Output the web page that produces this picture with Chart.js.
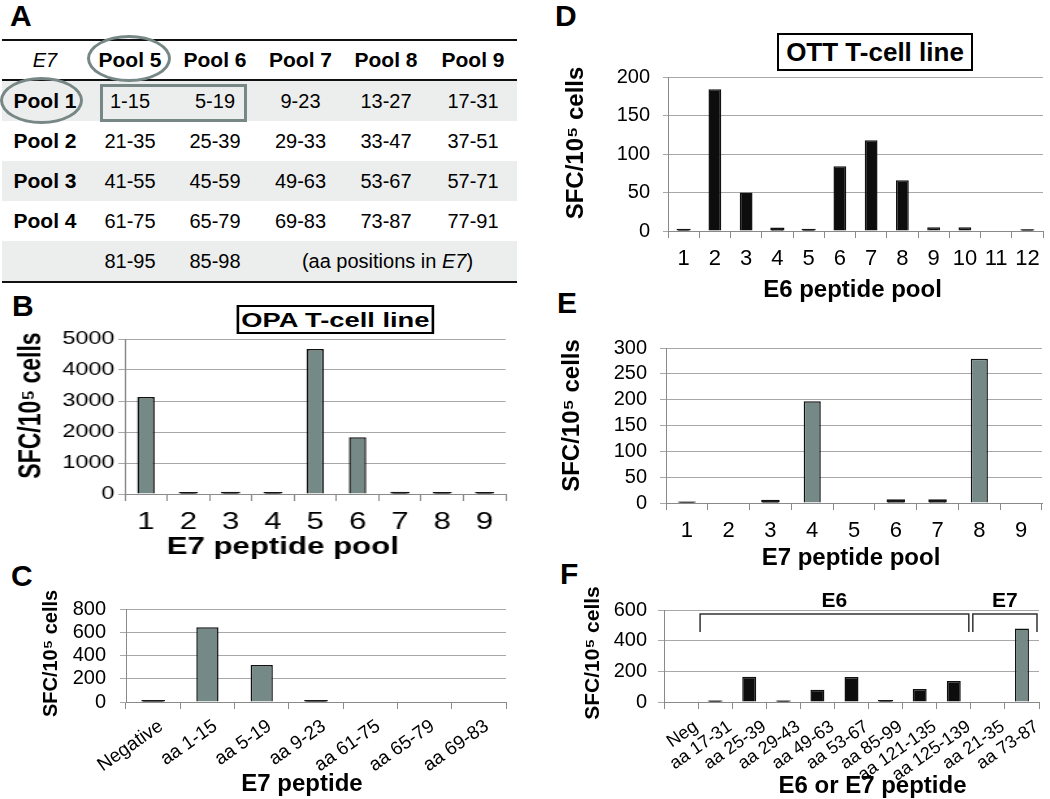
<!DOCTYPE html>
<html>
<head>
<meta charset="utf-8">
<title>HPV16 E6/E7 T-cell line responses</title>
<script src="https://cdn.jsdelivr.net/npm/chart.js@4.4.1/dist/chart.umd.min.js"></script>
<style>
  html, body { margin: 0; padding: 0; background: #fff; }
  body { width: 1050px; height: 799px; position: relative; overflow: hidden;
         font-family: "Liberation Sans", Arial, sans-serif; color: #000; }
  canvas { position: absolute; }
  .letter { position: absolute; font-size: 30px; font-weight: bold; line-height: 30px; }
  .box { position: absolute; box-sizing: border-box; border: 2px solid #000; background: #fff;
         font-weight: bold; text-align: center; white-space: nowrap; }
  .mark { position: absolute; box-sizing: border-box; border: 3px solid #778785; }
  #tbl { position: absolute; left: 2px; top: 39px; width: 515px; table-layout: fixed;
         border-collapse: collapse; border-top: 2px solid #111; border-bottom: 2px solid #111; font-size: 20px; }
  #tbl td { padding: 0; text-align: center; vertical-align: middle; white-space: nowrap; }
  #tbl thead td { height: 38px; border-bottom: 2px solid #111; font-weight: bold; font-size: 21px; }
  #tbl thead td.e7 { font-weight: normal; font-style: italic; font-size: 20px; }
  #tbl tbody td { height: 40px; }
  #tbl tbody td.rl { font-weight: bold; font-size: 21px; }
  #tbl tbody tr.shade td { background: #eceeed; }
  #stretchB { position: absolute; left: 0; top: 0; width: 396px; height: 799px;
              transform: scaleX(1.3); transform-origin: 0 0; }
</style>
</head>
<body>

<div class="letter" style="left:10px; top:1px;">A</div>
<div class="letter" style="left:12px; top:291px;">B</div>
<div class="letter" style="left:11px; top:561px;">C</div>
<div class="letter" style="left:555px; top:1px;">D</div>
<div class="letter" style="left:557px; top:288px;">E</div>
<div class="letter" style="left:560px; top:559px;">F</div>

<table id="tbl">
  <colgroup>
    <col style="width:86px"><col style="width:84px"><col style="width:86px">
    <col style="width:85px"><col style="width:86px"><col style="width:88px">
  </colgroup>
  <thead></thead>
  <tbody></tbody>
</table>
<div class="mark" style="left:87px; top:35px; width:84px; height:47px; border-radius:50%;"></div>
<div class="mark" style="left:0px; top:77px; width:83px; height:47px; border-radius:50%;"></div>
<div class="mark" style="left:100px; top:84px; width:147px; height:38px;"></div>

<div id="stretchB">
  <div class="box" style="left:182px; top:305px; width:152px; height:29px; font-size:21px; line-height:25px;">OPA T-cell line</div>
  <canvas id="chartB" width="396" height="231" style="left:0; top:330px;"></canvas>
</div>
<canvas id="chartC" width="515" height="219" style="left:0; top:580px;"></canvas>

<div class="box" style="left:777px; top:33px; width:196px; height:38px; font-size:26px; line-height:34px;">OTT T-cell line</div>
<canvas id="chartD" width="520" height="245" style="left:530px; top:60px;"></canvas>
<canvas id="chartE" width="520" height="245" style="left:530px; top:330px;"></canvas>
<canvas id="chartF" width="520" height="219" style="left:530px; top:580px;"></canvas>

<script>
// ---- panel A: peptide pool matrix ----
const tableCols = ['Pool 5', 'Pool 6', 'Pool 7', 'Pool 8', 'Pool 9'];
const tableRows = ['Pool 1', 'Pool 2', 'Pool 3', 'Pool 4'];
const tableCells = [
  ['1-15', '5-19', '9-23', '13-27', '17-31'],
  ['21-35', '25-39', '29-33', '33-47', '37-51'],
  ['41-55', '45-59', '49-63', '53-67', '57-71'],
  ['61-75', '65-79', '69-83', '73-87', '77-91']
];
const tableExtra = ['81-95', '85-98'];

// ---- panel B: OPA line, E7 pools ----
const bLabels = ['1', '2', '3', '4', '5', '6', '7', '8', '9'];
const bValues = [3130, 40, 50, 40, 4680, 1830, 50, 40, 40];

// ---- panel C: OPA line, E7 peptides ----
const cLabels = ['Negative', 'aa 1-15', 'aa 5-19', 'aa 9-23', 'aa 61-75', 'aa 65-79', 'aa 69-83'];
const cValues = [12, 642, 319, 12, 0, 0, 0];

// ---- panel D: OTT line, E6 pools ----
const dLabels = ['1', '2', '3', '4', '5', '6', '7', '8', '9', '10', '11', '12'];
const dValues = [2, 184, 50, 3.5, 2, 84, 118, 66, 5, 5, 0, 1.5];

// ---- panel E: OTT line, E7 pools ----
const eLabels = ['1', '2', '3', '4', '5', '6', '7', '8', '9'];
const eValues = [1.5, 0, 5, 197, 0, 6, 6, 279, 0];

// ---- panel F: OTT line, E6 / E7 peptides ----
const fLabels = ['Neg', 'aa 17-31', 'aa 25-39', 'aa 29-43', 'aa 49-63', 'aa 53-67',
                 'aa 85-99', 'aa 121-135', 'aa 125-139', 'aa 21-35', 'aa 73-87'];
const fValues = [0, 6, 165, 6, 80, 163, 8, 85, 137, 0, 480];
const fGroups = ['Neg', 'E6', 'E6', 'E6', 'E6', 'E6', 'E6', 'E6', 'E6', 'E7', 'E7'];
const fBrackets = [{ label: 'E6', from: 1, to: 8 }, { label: 'E7', from: 9, to: 10 }];

const FONT = '"Liberation Sans", Arial, sans-serif';
const AXIS = '#8a8a8a', GRID = '#a8a8a8', GREY = '#758a87', BLACK = '#0d0d0d';
const YTITLE = 'SFC/10\u2075 cells';

// build table
(function () {
  const tb = document.getElementById('tbl');
  tb.tHead.innerHTML = '<tr><td class="e7">E7</td>' + tableCols.map(c => '<td>' + c + '</td>').join('') + '</tr>';
  let html = '';
  tableRows.forEach((r, i) => {
    html += '<tr' + (i % 2 === 0 ? ' class="shade"' : '') + '><td class="rl">' + r + '</td>' +
      tableCells[i].map(c => '<td>' + c + '</td>').join('') + '</tr>';
  });
  html += '<tr class="shade"><td style="height:37px"></td>' + tableExtra.map(c => '<td>' + c + '</td>').join('') +
    '<td colspan="3">(aa positions in <i>E7</i>)</td></tr>';
  tb.tBodies[0].innerHTML = html;
})();

Chart.defaults.font.family = FONT;
Chart.defaults.color = '#000';

// axis titles drawn at fixed spots (the figure's titles are not centred on the plot)
const axisTitles = {
  id: 'axisTitles',
  afterDraw(chart, args, o) {
    const { ctx, chartArea: a } = chart;
    ctx.save();
    ctx.fillStyle = '#000';
    ctx.textAlign = 'center';
    ctx.textBaseline = 'middle';
    if (o.x) {
      ctx.font = 'bold ' + o.x.size + 'px ' + FONT;
      ctx.fillText(o.x.text, (a.left + a.right) / 2 + o.x.dx, o.x.y);
    }
    if (o.y) {
      ctx.translate(o.y.x, (a.top + a.bottom) / 2 + o.y.dy);
      ctx.rotate(-Math.PI / 2);
      ctx.font = 'bold ' + o.y.size + 'px ' + FONT;
      ctx.fillText(o.y.text, 0, 0);
    }
    ctx.restore();
  }
};

// E6 / E7 brackets over panel F
const brackets = {
  id: 'brackets',
  afterDatasetsDraw(chart) {
    const { ctx, chartArea: a, scales: { x } } = chart;
    const half = (x.right - x.left) / fLabels.length / 2;
    ctx.save();
    ctx.strokeStyle = '#333';
    ctx.lineWidth = 1.5;
    ctx.fillStyle = '#000';
    ctx.font = 'bold 21px ' + FONT;
    ctx.textAlign = 'center';
    ctx.textBaseline = 'middle';
    fBrackets.forEach(b => {
      const l = x.getPixelForValue(b.from) - half + 2;
      const r = x.getPixelForValue(b.to) + half - 2;
      const top = a.top + 4, end = a.top + 22;
      ctx.beginPath();
      ctx.moveTo(l, end); ctx.lineTo(l, top); ctx.lineTo(r, top); ctx.lineTo(r, end);
      ctx.stroke();
      ctx.fillText(b.label, (l + r) / 2, a.top - 9);
    });
    ctx.restore();
  }
};

function makeChart(id, cfg) {
  // near-zero bars show only as a dark sliver in the figure
  const tiny = c => c.raw > 0 && c.raw < cfg.max * 0.025;
  const fill = c => {
    const base = Array.isArray(cfg.colors) ? cfg.colors[c.dataIndex] : cfg.colors;
    return tiny(c) ? '#1a1a1a' : base;
  };
  return new Chart(document.getElementById(id), {
    type: 'bar',
    data: {
      labels: cfg.labels,
      datasets: [{
        data: cfg.values,
        backgroundColor: fill,
        borderColor: '#111',
        borderWidth: 1.5,
        inflateAmount: c => tiny(c) ? 0.7 : 'auto',
        barPercentage: 0.41,
        categoryPercentage: 1
      }]
    },
    options: {
      responsive: false,
      animation: false,
      events: [],
      layout: { padding: { top: cfg.pad[0], right: cfg.pad[1], bottom: 0, left: 0 } },
      plugins: { legend: { display: false }, tooltip: { enabled: false }, axisTitles: cfg.titles },
      scales: {
        x: {
          grid: { drawOnChartArea: false, color: AXIS, tickLength: 7 },
          border: { color: AXIS },
          ticks: { font: { size: cfg.xFont }, padding: cfg.xPad, autoSkip: false,
                   maxRotation: cfg.rot, minRotation: cfg.rot, labelOffset: cfg.lo || 0 },
          afterFit(s) { s.height = cfg.xh; s.paddingLeft = 0; s.paddingRight = 0; }
        },
        y: {
          min: 0, max: cfg.max,
          grid: { color: GRID, tickLength: cfg.ytl },
          border: { color: AXIS },
          ticks: { stepSize: cfg.step, autoSkip: false, font: { size: cfg.yFont }, padding: cfg.yPad,
                   callback: v => String(v) },
          afterFit(s) { s.width = cfg.yw; s.paddingTop = 0; s.paddingBottom = 0; }
        }
      }
    },
    plugins: [axisTitles].concat(cfg.plugins || [])
  });
}

makeChart('chartB', {
  labels: bLabels, values: bValues, colors: GREY,
  max: 5000, step: 1000, pad: [9, 7], yw: 96, xh: 67, ytl: 5, yPad: 3, yFont: 18,
  xFont: 24, xPad: 7, rot: 0,
  titles: { x: { text: 'E7 peptide pool', size: 24, dx: -25, y: 217 },
            y: { text: YTITLE, size: 23, x: 25, dy: -11 } }
});

makeChart('chartC', {
  labels: cLabels, values: cValues, colors: GREY,
  max: 800, step: 200, pad: [29, 9], yw: 126, xh: 97, ytl: 6, yPad: 14, yFont: 20,
  xFont: 19, xPad: 6, rot: 35, lo: 8,
  titles: { x: { text: 'E7 peptide', size: 24, dx: -14, y: 204 },
            y: { text: YTITLE, size: 20, x: 51, dy: -2 } }
});

makeChart('chartD', {
  labels: dLabels, values: dValues, colors: BLACK,
  max: 200, step: 50, pad: [17, 7], yw: 138, xh: 74, ytl: 5, yPad: 13, yFont: 20,
  xFont: 22, xPad: 8, rot: 0,
  titles: { x: { text: 'E6 peptide pool', size: 24, dx: -3, y: 230 },
            y: { text: YTITLE, size: 24, x: 46, dy: -11 } }
});

makeChart('chartE', {
  labels: eLabels, values: eValues, colors: GREY,
  max: 300, step: 50, pad: [18, 8], yw: 136, xh: 72, ytl: 6, yPad: 13, yFont: 20,
  xFont: 22, xPad: 8, rot: 0,
  titles: { x: { text: 'E7 peptide pool', size: 24, dx: -3, y: 228 },
            y: { text: YTITLE, size: 24, x: 42, dy: -10 } }
});

makeChart('chartF', {
  labels: fLabels, values: fValues, colors: fGroups.map(g => g === 'E7' ? GREY : BLACK),
  max: 600, step: 200, pad: [30, 11], yw: 134, xh: 97, ytl: 6, yPad: 11, yFont: 20,
  xFont: 18, xPad: 7, rot: 35, lo: 15,
  titles: { x: { text: 'E6 or E7 peptide', size: 24, dx: 21, y: 206 },
            y: { text: YTITLE, size: 21, x: 63, dy: -3 } },
  plugins: [brackets]
});
</script>
</body>
</html>
